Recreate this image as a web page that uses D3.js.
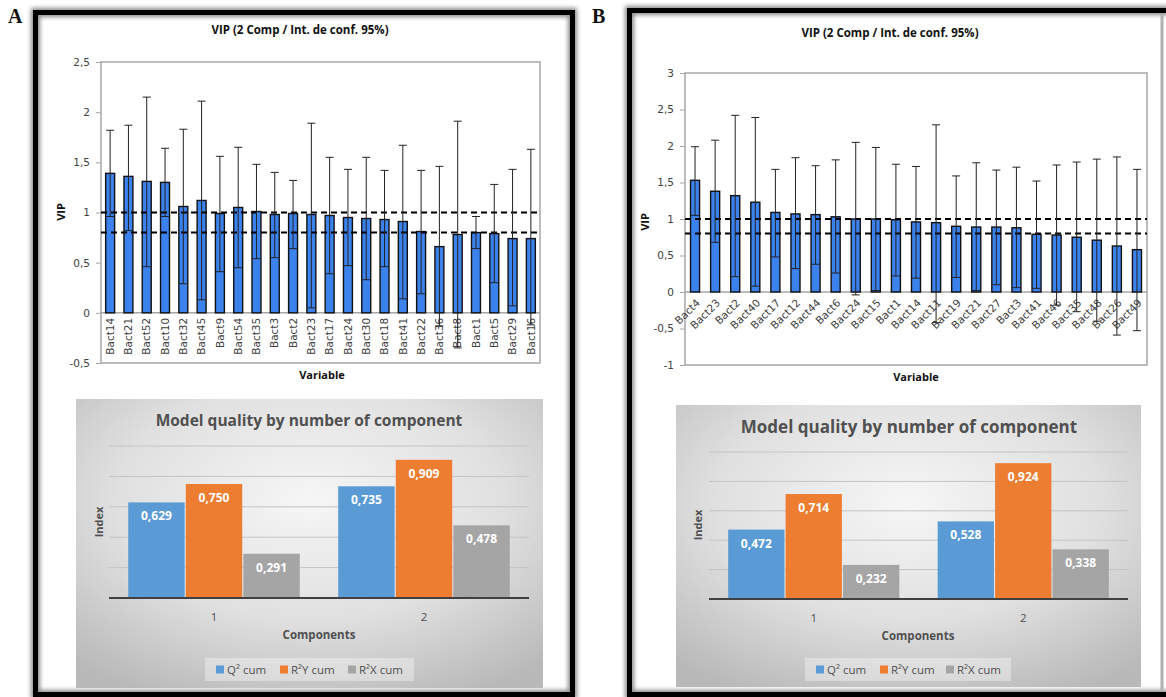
<!DOCTYPE html>
<html><head><meta charset="utf-8">
<script src="https://cdn.jsdelivr.net/npm/d3@7"></script>
<style>body{margin:0;background:#fff}svg{display:block}</style>
</head><body><svg id="c" width="1166" height="697"></svg>
<script>
// ---------- DATA ----------
const titleVip = "VIP (2 Comp / Int. de conf. 95%)";
const titleQuality = "Model quality by number of component";

const catsA = ["Bact14","Bact21","Bact52","Bact10","Bact32","Bact45","Bact9","Bact54","Bact35","Bact3","Bact2","Bact23","Bact17","Bact24","Bact30","Bact18","Bact41","Bact22","Bact36","Bact8","Bact1","Bact5","Bact29","Bact16"];
const vipA = [1.39,1.36,1.31,1.30,1.06,1.12,0.99,1.05,1.01,0.98,0.99,0.98,0.97,0.95,0.94,0.93,0.91,0.81,0.66,0.78,0.80,0.79,0.74,0.74];
const loA  = [0.96,0.82,0.46,0.96,0.29,0.13,0.41,0.45,0.54,0.55,0.64,0.05,0.39,0.47,0.33,0.46,0.14,0.19,-0.13,-0.35,0.64,0.30,0.07,-0.12];
const hiA  = [1.82,1.87,2.15,1.64,1.83,2.11,1.56,1.65,1.48,1.40,1.32,1.89,1.55,1.43,1.55,1.42,1.67,1.42,1.46,1.91,0.96,1.28,1.43,1.63];
const ticksA = [-0.5,0,0.5,1,1.5,2,2.5];

const catsB = ["Bact4","Bact23","Bact2","Bact40","Bact17","Bact12","Bact44","Bact6","Bact24","Bact15","Bact1","Bact14","Bact11","Bact19","Bact21","Bact27","Bact3","Bact41","Bact46","Bact35","Bact48","Bact26","Bact49"];
const vipB = [1.53,1.38,1.32,1.23,1.09,1.07,1.06,1.03,1.00,1.00,0.99,0.96,0.95,0.90,0.89,0.89,0.88,0.79,0.78,0.75,0.71,0.63,0.58];
const loB  = [1.05,0.68,0.21,0.08,0.48,0.32,0.38,0.26,-0.04,0.02,0.22,0.19,-0.42,0.20,0.02,0.10,0.06,0.05,-0.18,-0.27,-0.40,-0.59,-0.53];
const hiB  = [1.99,2.08,2.42,2.39,1.68,1.84,1.73,1.81,2.05,1.98,1.75,1.72,2.29,1.59,1.77,1.67,1.71,1.52,1.74,1.78,1.82,1.85,1.68];
const ticksB = [-1,-0.5,0,0.5,1,1.5,2,2.5,3];
const thresholds = [1, 0.8];

const components = ["1","2"];
const seriesNames = ["Q² cum","R²Y cum","R²X cum"];
const q2A = [0.629,0.735], r2yA = [0.750,0.909], r2xA = [0.291,0.478];
const q2B = [0.472,0.528], r2yB = [0.714,0.924], r2xB = [0.232,0.338];
const gridTicks = [0,0.2,0.4,0.6,0.8,1.0];

// ---------- HELPERS ----------
const loc = d3.formatLocale({decimal:",",thousands:" ",grouping:[3],currency:["",""],minus:"-"});
const tickFmt = loc.format("~g");
const valFmt = loc.format(".3f");
const seriesColors = ["#5b9bd5","#ed7d31","#a5a5a5"];

const svg = d3.select("#c");
const defs = svg.append("defs");
defs.append("filter").attr("id","blur").attr("x","-5%").attr("y","-5%").attr("width","110%").attr("height","110%")
  .append("feGaussianBlur").attr("stdDeviation",2.2);
const rg = defs.append("radialGradient").attr("id","bg").attr("cx","50%").attr("cy","35%").attr("r","75%");
rg.append("stop").attr("offset","0%").attr("stop-color","#f6f6f6");
rg.append("stop").attr("offset","55%").attr("stop-color","#e0e0e0");
rg.append("stop").attr("offset","100%").attr("stop-color","#b9b9b9");

svg.append("rect").attr("width",1166).attr("height",697).attr("fill","#fff");

// frames
function frame(x,y,w,h){
  svg.append("rect").attr("x",x).attr("y",y).attr("width",w).attr("height",h)
    .attr("fill","none").attr("stroke","#8a8a8a").attr("stroke-width",9).attr("filter","url(#blur)");
  svg.append("rect").attr("x",x).attr("y",y).attr("width",w).attr("height",h)
    .attr("fill","none").attr("stroke","#000").attr("stroke-width",5);
}
frame(35.5,12.5,537,682);
frame(629.5,10.5,545,684);
svg.append("line").attr("x1",1162).attr("x2",1162).attr("y1",14).attr("y2",690).attr("stroke","#b0b0b0").attr("stroke-width",3);

svg.append("text").attr("x",8).attr("y",23).text("A")
  .attr("font-family","Liberation Serif").attr("font-weight","bold").attr("font-size",20).attr("fill","#111");
svg.append("text").attr("x",592).attr("y",23).text("B")
  .attr("font-family","Liberation Serif").attr("font-weight","bold").attr("font-size",20).attr("fill","#111");

// ---------- VIP CHART ----------
function vipChart(c){
  const x = d3.scaleBand().domain(c.cats).range([c.x0,c.x1]).paddingInner(c.pad).paddingOuter(c.pad/2);
  const y = d3.scaleLinear().domain(c.domain).range([c.yB,c.yT]);
  const g = svg.append("g");
  g.append("text").attr("x",c.titleX).attr("y",c.titleY).attr("text-anchor","middle").text(titleVip)
    .attr("font-family","Open Sans").attr("font-weight","bold").attr("font-size",11.5).attr("fill","#111");
  g.append("rect").attr("x",c.x0).attr("y",c.yT).attr("width",c.x1-c.x0).attr("height",c.yB-c.yT)
    .attr("fill","none").attr("stroke","#a6a6a6").attr("stroke-width",1.5);
  const ag = g.append("g").attr("transform",`translate(${c.x0},0)`)
    .call(d3.axisLeft(y).tickValues(c.ticks).tickFormat(tickFmt).tickSize(5).tickPadding(6));
  ag.select(".domain").remove();
  ag.selectAll("line").attr("stroke","#a6a6a6");
  ag.selectAll("text").attr("font-family","DejaVu Sans").attr("font-size",10.5).attr("fill","#404040");
  g.append("line").attr("x1",c.x0).attr("x2",c.x1).attr("y1",y(0)).attr("y2",y(0))
    .attr("stroke","#a6a6a6").attr("stroke-width",1.5);
  // bars
  g.selectAll(".bar").data(c.cats).join("rect")
    .attr("x",d=>x(d)).attr("y",(d,i)=>y(c.vip[i]))
    .attr("width",x.bandwidth()).attr("height",(d,i)=>y(0)-y(c.vip[i]))
    .attr("fill","#3b82ec").attr("stroke","#111").attr("stroke-width",1.4);
  // labels
  g.selectAll(".lbl").data(c.cats).join("text")
    .attr("transform",d=>{
      const cx = x(d)+x.bandwidth()/2;
      return c.rotate===-90 ? `translate(${cx},${y(0)+5}) rotate(-90)` : `translate(${cx+3},${y(0)+9}) rotate(-45)`;
    })
    .attr("text-anchor","end").attr("dy","0.35em").text(d=>d)
    .attr("font-family","DejaVu Sans").attr("font-size",10.5).attr("fill","#404040");
  // thresholds
  g.selectAll(".thr").data(thresholds).join("line")
    .attr("x1",c.x0).attr("x2",c.x1).attr("y1",d=>y(d)).attr("y2",d=>y(d))
    .attr("stroke","#000").attr("stroke-width",2).attr("stroke-dasharray","6,4");
  // error bars
  const eb = g.selectAll(".eb").data(c.cats).join("g");
  eb.append("line").attr("x1",d=>x(d)+x.bandwidth()/2).attr("x2",d=>x(d)+x.bandwidth()/2)
    .attr("y1",(d,i)=>y(c.lo[i])).attr("y2",(d,i)=>y(c.hi[i])).attr("stroke","#222").attr("stroke-width",1);
  eb.append("line").attr("x1",d=>x(d)+x.bandwidth()/2-4).attr("x2",d=>x(d)+x.bandwidth()/2+4)
    .attr("y1",(d,i)=>y(c.hi[i])).attr("y2",(d,i)=>y(c.hi[i])).attr("stroke","#222").attr("stroke-width",1);
  eb.append("line").attr("x1",d=>x(d)+x.bandwidth()/2-4).attr("x2",d=>x(d)+x.bandwidth()/2+4)
    .attr("y1",(d,i)=>y(c.lo[i])).attr("y2",(d,i)=>y(c.lo[i])).attr("stroke","#222").attr("stroke-width",1);
  // axis titles
  g.append("text").attr("transform",`translate(${c.vipX},${c.vipY}) rotate(-90)`).attr("text-anchor","middle").text("VIP")
    .attr("font-family","Open Sans").attr("font-weight","bold").attr("font-size",11).attr("fill","#111");
  g.append("text").attr("x",c.varX).attr("y",c.varY).attr("text-anchor","middle").text("Variable")
    .attr("font-family","Open Sans").attr("font-weight","bold").attr("font-size",11).attr("fill","#111");
}

vipChart({cats:catsA, vip:vipA, lo:loA, hi:hiA, ticks:ticksA, domain:[-0.5,2.5],
  x0:101, x1:540, yT:62, yB:363, pad:0.51, rotate:-90,
  titleX:300, titleY:34, vipX:65, vipY:212, varX:322, varY:379});
vipChart({cats:catsB, vip:vipB, lo:loB, hi:hiB, ticks:ticksB, domain:[-1,3],
  x0:685, x1:1147, yT:73, yB:365, pad:0.55, rotate:-45,
  titleX:890, titleY:37, vipX:649, vipY:222, varX:916, varY:381});

// ---------- MODEL QUALITY ----------
function quality(c){
  const g = svg.append("g");
  g.append("rect").attr("x",c.px0).attr("y",c.py0).attr("width",c.px1-c.px0).attr("height",c.py1-c.py0).attr("fill","url(#bg)");
  g.append("text").attr("x",c.titleX).attr("y",c.titleY).attr("text-anchor","middle").text(titleQuality)
    .attr("font-family","Open Sans").attr("font-weight","bold").attr("font-size",c.titleSize).attr("fill","#505050");
  const x = d3.scaleBand().domain(components).range([c.x0,c.x1]).paddingInner(0.183).paddingOuter(0.0915);
  const xs = d3.scaleBand().domain(seriesNames).range([0,x.bandwidth()]).paddingInner(0.02);
  const y = d3.scaleLinear().domain([0,1]).range([c.base,c.top]);
  g.selectAll(".grid").data(gridTicks.slice(1)).join("line")
    .attr("x1",c.x0).attr("x2",c.x1).attr("y1",d=>y(d)).attr("y2",d=>y(d))
    .attr("stroke","#c4c4c4").attr("stroke-width",1);
  const rows = components.map((k,i)=>({k, vals:[c.q2[i],c.r2y[i],c.r2x[i]]}));
  const grp = g.selectAll(".grp").data(rows).join("g").attr("transform",d=>`translate(${x(d.k)},0)`);
  grp.selectAll("rect").data(d=>d.vals.map((v,j)=>({v,s:seriesNames[j],j}))).join("rect")
    .attr("x",d=>xs(d.s)).attr("y",d=>y(d.v)).attr("width",xs.bandwidth()).attr("height",d=>c.base-y(d.v))
    .attr("fill",d=>seriesColors[d.j]);
  grp.selectAll("text").data(d=>d.vals.map((v,j)=>({v,s:seriesNames[j]}))).join("text")
    .attr("x",d=>xs(d.s)+xs.bandwidth()/2).attr("y",d=>y(d.v)+18).attr("text-anchor","middle")
    .text(d=>valFmt(d.v)).attr("font-family","Open Sans").attr("font-weight","bold").attr("font-size",12).attr("fill","#fff");
  g.append("line").attr("x1",c.x0).attr("x2",c.x1).attr("y1",c.base).attr("y2",c.base).attr("stroke","#404040").attr("stroke-width",2);
  g.selectAll(".cl").data(components).join("text").attr("x",d=>x(d)+x.bandwidth()/2).attr("y",c.base+23)
    .attr("text-anchor","middle").text(d=>d).attr("font-family","Open Sans").attr("font-size",11.5).attr("fill","#505050");
  g.append("text").attr("x",c.compX).attr("y",c.base+41).attr("text-anchor","middle").text("Components")
    .attr("font-family","Open Sans").attr("font-weight","bold").attr("font-size",11.5).attr("fill","#505050");
  g.append("text").attr("transform",`translate(${c.idxX},${c.idxY}) rotate(-90)`).attr("text-anchor","middle").text("Index")
    .attr("font-family","Open Sans").attr("font-weight","bold").attr("font-size",11).attr("fill","#505050");
  // legend
  g.append("rect").attr("x",c.lx0).attr("y",658).attr("width",c.lx1-c.lx0).attr("height",23).attr("fill","#fff").attr("opacity",0.35);
  seriesNames.forEach((s,j)=>{
    g.append("rect").attr("x",c.lsq[j]).attr("y",665.5).attr("width",8).attr("height",8).attr("fill",seriesColors[j]);
    g.append("text").attr("x",c.lsq[j]+11).attr("y",674).text(s)
      .attr("font-family","Open Sans").attr("font-size",11.5).attr("fill","#505050");
  });
}

quality({px0:76, px1:543, py0:399, py1:688, x0:109, x1:529, base:598, top:446,
  titleX:309, titleY:426, titleSize:15.5, q2:q2A, r2y:r2yA, r2x:r2xA,
  compX:319, idxX:103, idxY:522, lx0:205, lx1:414, lsq:[216,280,348]});
quality({px0:676, px1:1141, py0:405, py1:687, x0:709, x1:1128, base:599, top:452,
  titleX:909, titleY:433, titleSize:17, q2:q2B, r2y:r2yB, r2x:r2xB,
  compX:918, idxX:702, idxY:525, lx0:805, lx1:1011, lsq:[816,880,946]});
</script>
</body></html>
